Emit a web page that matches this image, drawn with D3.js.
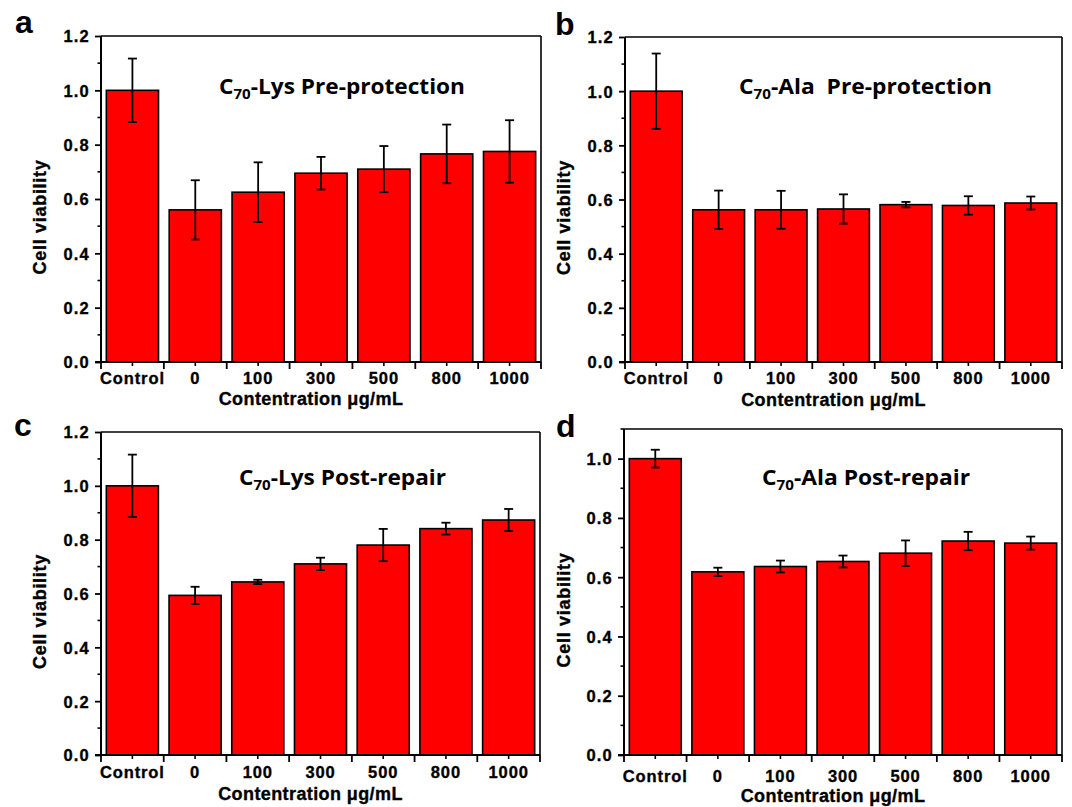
<!DOCTYPE html>
<html>
<head>
<meta charset="utf-8">
<script src="https://cdn.jsdelivr.net/npm/d3@7"></script>
<style>
  html, body { margin: 0; padding: 0; background: #fff; }
  svg { display: block; }
  text { font-family: "Liberation Sans", Arial, sans-serif; font-weight: bold; fill: #000; }
  .heavy { stroke: #000; stroke-width: 0.35px; }
  .ttl { font-family: "Open Sans", "Noto Sans", sans-serif; font-weight: bold; white-space: pre; }
</style>
</head>
<body>
<svg id="chart" width="1072" height="807"></svg>
<script>
// ---------- data ----------
const categories = ["Control", "0", "100", "300", "500", "800", "1000"];

const lysPreMean  = [1.000, 0.560, 0.625, 0.695, 0.710, 0.766, 0.775];
const lysPreErr   = [0.117, 0.109, 0.110, 0.060, 0.085, 0.108, 0.115];

const alaPreMean  = [1.000, 0.562, 0.562, 0.565, 0.581, 0.578, 0.587];
const alaPreErr   = [0.139, 0.071, 0.070, 0.054, 0.010, 0.034, 0.024];

const lysPostMean = [1.000, 0.593, 0.643, 0.710, 0.780, 0.841, 0.873];
const lysPostErr  = [0.116, 0.032, 0.008, 0.023, 0.060, 0.022, 0.041];

const alaPostMean = [1.000, 0.618, 0.636, 0.653, 0.681, 0.722, 0.715];
const alaPostErr  = [0.030, 0.014, 0.020, 0.020, 0.043, 0.031, 0.022];

const yTicks12 = [0.0, 0.2, 0.4, 0.6, 0.8, 1.0, 1.2];
const yTicks10 = [0.0, 0.2, 0.4, 0.6, 0.8, 1.0];

const panelLetters = ["a", "b", "c", "d"];
const panelTitles = [
  ["C", "70", "-Lys Pre-protection"],
  ["C", "70", "-Ala  Pre-protection"],
  ["C", "70", "-Lys Post-repair"],
  ["C", "70", "-Ala Post-repair"]
];
const yLabel = "Cell viability";
const xLabel = "Contentration \u03bcg/mL";

// ---------- layout ----------
const panels = [
  { mean: lysPreMean,  err: lysPreErr,  ymax: 1.2, ticks: yTicks12,
    x0: 101, x1: 541, y0: 36, y1: 362,
    letter: [15, 33], title: [219, 94, 246], tickBase: 384, xlabBase: 405, ylabX: 46 },
  { mean: alaPreMean,  err: alaPreErr,  ymax: 1.2, ticks: yTicks12,
    x0: 625, x1: 1062, y0: 37, y1: 362,
    letter: [555, 35], title: [739, 94, 253], tickBase: 384, xlabBase: 406, ylabX: 570 },
  { mean: lysPostMean, err: lysPostErr, ymax: 1.2, ticks: yTicks12,
    x0: 101, x1: 540, y0: 432, y1: 755,
    letter: [14, 436], title: [239, 485, 207], tickBase: 778, xlabBase: 800, ylabX: 46 },
  { mean: alaPostMean, err: alaPostErr, ymax: 1.1, ticks: yTicks10,
    x0: 624, x1: 1062, y0: 429, y1: 755,
    letter: [556, 437], title: [762, 485, 208], tickBase: 782, xlabBase: 802, ylabX: 570 }
];

const svg = d3.select("#chart");
const RED = "#ff0000";

panels.forEach((p, pi) => {
  const g = svg.append("g");
  const x = d3.scaleBand().domain(categories).range([p.x0, p.x1])
              .paddingInner(0.17).paddingOuter(0.085);
  const y = d3.scaleLinear().domain([0, p.ymax]).range([p.y1, p.y0]);
  const step = x.step();

  // bars
  g.selectAll("rect.bar").data(categories).join("rect")
    .attr("class", "bar")
    .attr("x", d => x(d))
    .attr("width", x.bandwidth())
    .attr("y", (d, i) => y(p.mean[i]))
    .attr("height", (d, i) => y(0) - y(p.mean[i]))
    .attr("fill", RED).attr("stroke", "#000").attr("stroke-width", 1.6);

  // error bars
  const cx = d => x(d) + x.bandwidth() / 2;
  const eg = g.selectAll("g.err").data(categories).join("g").attr("class", "err")
    .attr("stroke", "#000").attr("stroke-width", 1.8);
  eg.append("line")
    .attr("x1", cx).attr("x2", cx)
    .attr("y1", (d, i) => y(p.mean[i] + p.err[i]))
    .attr("y2", (d, i) => y(p.mean[i] - p.err[i]));
  [1, -1].forEach(s => {
    eg.append("line")
      .attr("x1", d => cx(d) - 4.5).attr("x2", d => cx(d) + 4.5)
      .attr("y1", (d, i) => y(p.mean[i] + s * p.err[i]))
      .attr("y2", (d, i) => y(p.mean[i] + s * p.err[i]));
  });

  // frame (top and right)
  g.append("line").attr("x1", p.x0).attr("x2", p.x1).attr("y1", p.y0).attr("y2", p.y0)
    .attr("stroke", "#000").attr("stroke-width", 1.6);
  g.append("line").attr("x1", p.x1).attr("x2", p.x1).attr("y1", p.y0).attr("y2", p.y1)
    .attr("stroke", "#000").attr("stroke-width", 1.6);

  // y axis
  const yAxis = d3.axisLeft(y).tickValues(p.ticks).tickFormat(d3.format(".1f"))
    .tickSize(6).tickPadding(5);
  const ya = g.append("g").attr("transform", `translate(${p.x0},0)`).call(yAxis);
  ya.select(".domain").attr("stroke-width", 2).attr("d", `M0,${p.y1}V${p.y0}`);
  ya.selectAll(".tick line").attr("stroke-width", 1.8);
  ya.selectAll(".tick text").attr("class", "heavy")
    .style("font-size", "16.5px").style("letter-spacing", "1.2px")
    .attr("dy", "0.36em");
  // minor y ticks
  const minors = d3.range(1, Math.round(p.ymax * 10) + 1, 2).map(v => v / 10)
    .filter(v => v <= p.ymax + 1e-9);
  g.selectAll("line.ymin").data(minors).join("line").attr("class", "ymin")
    .attr("x1", p.x0 - 3.5).attr("x2", p.x0)
    .attr("y1", d => y(d)).attr("y2", d => y(d))
    .attr("stroke", "#000").attr("stroke-width", 1.6);

  // x axis line
  g.append("line").attr("x1", p.x0 - 6).attr("x2", p.x1).attr("y1", p.y1).attr("y2", p.y1)
    .attr("stroke", "#000").attr("stroke-width", 2);
  // major ticks at band boundaries
  const bounds = d3.range(categories.length + 1).map(i => p.x0 + i * step);
  g.selectAll("line.xmaj").data(bounds).join("line").attr("class", "xmaj")
    .attr("x1", d => d).attr("x2", d => d).attr("y1", p.y1).attr("y2", p.y1 + 7)
    .attr("stroke", "#000").attr("stroke-width", 1.8);
  // minor ticks at category centres
  g.selectAll("line.xmin").data(categories).join("line").attr("class", "xmin")
    .attr("x1", cx).attr("x2", cx).attr("y1", p.y1).attr("y2", p.y1 + 4)
    .attr("stroke", "#000").attr("stroke-width", 1.6);
  // x tick labels
  g.selectAll("text.xt").data(categories).join("text").attr("class", "xt heavy")
    .attr("x", cx).attr("y", p.tickBase).attr("text-anchor", "middle")
    .style("font-size", "16.5px").style("letter-spacing", "0.9px")
    .text(d => d);

  // axis titles
  g.append("text").attr("class", "heavy")
    .attr("x", (p.x0 + p.x1) / 2 - 10).attr("y", p.xlabBase)
    .attr("text-anchor", "middle").style("font-size", "18px").style("letter-spacing", "0.4px")
    .text(xLabel);
  g.append("text").attr("class", "heavy")
    .attr("transform", `translate(${p.ylabX},${(p.y0 + p.y1) / 2 + 18}) rotate(-90)`)
    .attr("text-anchor", "middle").style("font-size", "18px").style("letter-spacing", "0.7px")
    .text(yLabel);

  // panel letter
  g.append("text").attr("x", p.letter[0]).attr("y", p.letter[1])
    .style("font-size", "32px").text(panelLetters[pi]);

  // panel title
  const t = panelTitles[pi];
  const tt = g.append("text").attr("class", "ttl")
    .attr("x", p.title[0]).attr("y", p.title[1])
    .attr("textLength", p.title[2]).attr("lengthAdjust", "spacingAndGlyphs")
    .style("font-size", "21px");
  tt.append("tspan").text(t[0]);
  tt.append("tspan").attr("dy", 5).style("font-size", "14px").text(t[1]);
  tt.append("tspan").attr("dy", -5).text(t[2]);
});
</script>
</body>
</html>
